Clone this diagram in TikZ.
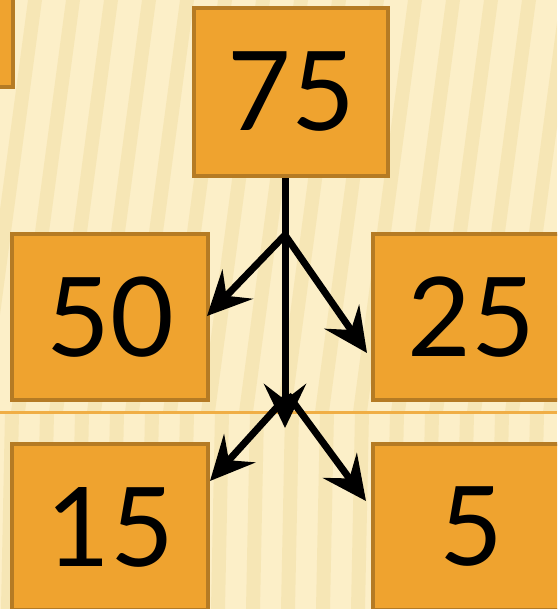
\documentclass[tikz,border=0pt]{standalone}
\usepackage{fontspec}
\setmainfont{Lato}
\usetikzlibrary{arrows.meta}
\definecolor{bgcream}{HTML}{FCEFC8}
\definecolor{bgstripe}{HTML}{F2DFA6}
\definecolor{boxfill}{HTML}{EFA32F}
\definecolor{boxline}{HTML}{B57B24}
\definecolor{rulecol}{HTML}{F0AE45}
\tikzset{
  numbox/.style={draw=boxline, line width=4pt, fill=boxfill, rectangle,
    minimum width=196pt, minimum height=166pt, inner sep=0pt,
    font=\fontsize{110}{110}\selectfont, text=black},
  conn/.style={line width=7pt, draw=black,
    -{Stealth[length=44pt, width=42pt, inset=16pt]}}
}
\begin{document}
\begin{tikzpicture}[x=1pt, y=-1pt]
\useasboundingbox (0,0) rectangle (557,609);
\clip (0,0) rectangle (557,609);
\fill[bgcream] (0,0) rectangle (557,609);
% stripes upper part (slanted)
\foreach \s in {-10,28,...,640} {
  \fill[bgstripe, opacity=0.55] (\s,0) -- (\s+14,0) -- (\s-41,412) -- (\s-55,412) -- cycle;
}
% stripes lower part
\foreach \s in {5,40,...,600} {
  \fill[bgstripe, opacity=0.55] (\s,412) -- (\s+14,412) -- (\s+10,609) -- (\s-4,609) -- cycle;
}
\fill[rulecol] (0,411) rectangle (557,413.5);
% boxes
\node[numbox] (p)  at (-85,4) {};
\node[numbox, minimum width=194pt, minimum height=168pt] (n75) at (291,92) {75};
\node[numbox] (n50) at (110,317) {50};
\node[numbox] (n25) at (471,317) {25};
\node[numbox] (n15) at (110,527) {15};
\node[numbox] (n5)  at (471,527) {5};
% connectors
\coordinate (b1) at (285,235);
\coordinate (b2) at (288,395);
\coordinate (v)  at (285,428);
\coordinate (t50) at (207,316);
\coordinate (t25) at (367,353);
\coordinate (t15) at (210,481);
\coordinate (t5)  at (366,501);
\draw[conn] (n75.south -| b1) -- (v);
\draw[conn] (b1) -- (t50);
\draw[conn] (b1) -- (t25);
\draw[conn] (b2) -- (t15);
\draw[conn] (b2) -- (t5);
\end{tikzpicture}
\end{document}
